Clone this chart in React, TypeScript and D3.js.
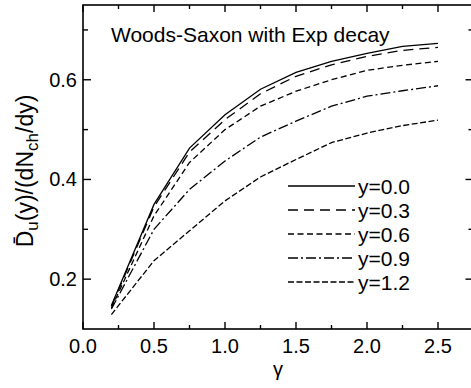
import React from "react";
import * as d3 from "d3";

const gammas = [0.2, 0.5, 0.75, 1.0, 1.25, 1.5, 1.75, 2.0, 2.25, 2.5];
const y00 = [0.147, 0.35, 0.463, 0.53, 0.581, 0.615, 0.637, 0.653, 0.667, 0.673];
const y03 = [0.145, 0.345, 0.455, 0.52, 0.572, 0.607, 0.63, 0.647, 0.659, 0.665];
const y06 = [0.142, 0.327, 0.434, 0.5, 0.547, 0.577, 0.6, 0.619, 0.629, 0.637];
const y09 = [0.14, 0.3, 0.38, 0.437, 0.485, 0.517, 0.547, 0.567, 0.578, 0.588];
const y12 = [0.129, 0.237, 0.297, 0.357, 0.405, 0.44, 0.474, 0.493, 0.508, 0.519];
const seriesLabels = ["y=0.0", "y=0.3", "y=0.6", "y=0.9", "y=1.2"];
const seriesValues = [y00, y03, y06, y09, y12];
const dashes = ["none", "10,6", "6,3.5", "10,3,2,3", "6,2.5"];
const xMajor = [0, 0.5, 1.0, 1.5, 2.0, 2.5];
const xMinor = [0.25, 0.75, 1.25, 1.75, 2.25];
const yMajor = [0.2, 0.4, 0.6];
const yMinor = [0.3, 0.5, 0.7];
const title = "Woods-Saxon with Exp decay";

const W = 471, H = 388;
const left = 83, top = 5, bottom = 329;
const x = d3.scaleLinear().domain([0, 2.75]).range([left, left + 2.75 * 142]);
const y = d3.scaleLinear().domain([0.1, 0.75]).range([bottom, top]);
const font = "'Liberation Sans', Arial, Helvetica, sans-serif";

export default function App() {
  const line = d3.line<number>().x((_, i) => x(gammas[i])).y((v) => y(v));
  const right = x(2.75);
  const legX0 = 288, legX1 = 355, legY0 = 186, legDy = 24;
  return (
    <svg width={W} height={H} style={{ position: "absolute", left: 0, top: 0, background: "#fff" }} fontFamily={font}>
      <rect x={0} y={0} width={W} height={H} fill="#fff" />
      {seriesValues.map((vals, i) => (
        <path key={i} d={line(vals) || ""} fill="none" stroke="#000" strokeWidth={1.3} strokeDasharray={dashes[i]} />
      ))}
      {/* frame */}
      <rect x={left} y={top} width={right - left} height={bottom - top} fill="none" stroke="#000" strokeWidth={1.6} />
      {xMajor.map((t) => (
        <g key={"xM" + t}>
          <line x1={x(t)} x2={x(t)} y1={bottom} y2={bottom - 7} stroke="#000" strokeWidth={1.4} />
          <line x1={x(t)} x2={x(t)} y1={top} y2={top + 7} stroke="#000" strokeWidth={1.4} />
          <text x={x(t)} y={bottom + 24} fontSize={20} textAnchor="middle">{t.toFixed(1)}</text>
        </g>
      ))}
      {xMinor.map((t) => (
        <g key={"xm" + t}>
          <line x1={x(t)} x2={x(t)} y1={bottom} y2={bottom - 4} stroke="#000" strokeWidth={1.4} />
          <line x1={x(t)} x2={x(t)} y1={top} y2={top + 4} stroke="#000" strokeWidth={1.4} />
        </g>
      ))}
      {yMajor.map((t) => (
        <g key={"yM" + t}>
          <line x1={left} x2={left + 8} y1={y(t)} y2={y(t)} stroke="#000" strokeWidth={1.4} />
          <line x1={right} x2={right - 8} y1={y(t)} y2={y(t)} stroke="#000" strokeWidth={1.4} />
          <text x={left - 6} y={y(t) + 7} fontSize={20} textAnchor="end">{t.toFixed(1)}</text>
        </g>
      ))}
      {yMinor.map((t) => (
        <g key={"ym" + t}>
          <line x1={left} x2={left + 5} y1={y(t)} y2={y(t)} stroke="#000" strokeWidth={1.4} />
          <line x1={right} x2={right - 5} y1={y(t)} y2={y(t)} stroke="#000" strokeWidth={1.4} />
        </g>
      ))}
      <text x={111} y={42} fontSize={21}>{title}</text>
      {seriesLabels.map((lab, i) => (
        <g key={lab}>
          <line x1={legX0} x2={legX1} y1={legY0 + i * legDy} y2={legY0 + i * legDy} stroke="#000" strokeWidth={1.3} strokeDasharray={dashes[i]} />
          <text x={legX1 + 3} y={legY0 + i * legDy + 7.5} fontSize={21}>{lab}</text>
        </g>
      ))}
      <text x={278} y={376} fontSize={20} textAnchor="middle">γ</text>
      <text transform={`translate(33,171) rotate(-90)`} fontSize={23} textAnchor="middle">
        <tspan>D&#772;</tspan>
        <tspan fontSize={17} dy={5}>u</tspan>
        <tspan dy={-5}>(y)/(dN</tspan>
        <tspan fontSize={17} dy={5}>ch</tspan>
        <tspan dy={-5}>/dy)</tspan>
      </text>
    </svg>
  );
}
